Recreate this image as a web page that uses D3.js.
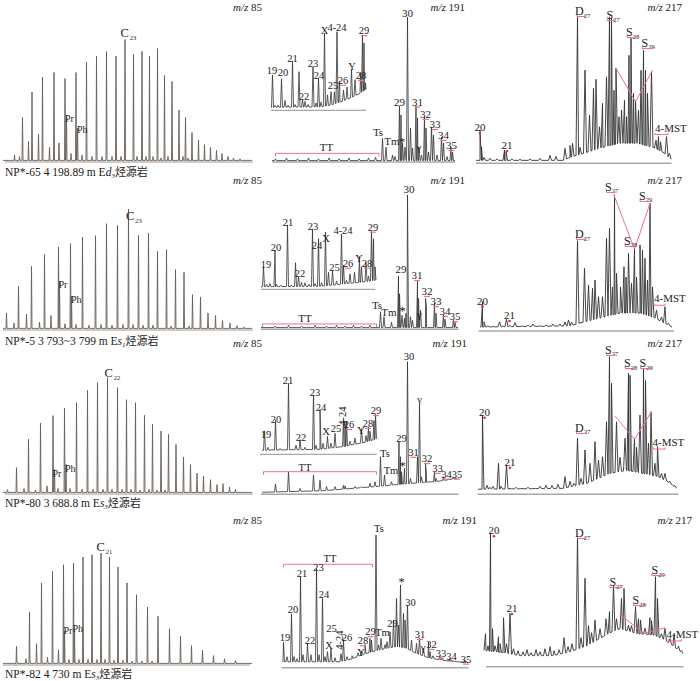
<!DOCTYPE html>
<html>
<head>
<meta charset="utf-8">
<script src="https://cdn.jsdelivr.net/npm/d3@7"></script>
<style>
body { margin: 0; background: #fff; }
svg text { font-family: "Liberation Serif", "Times New Roman", "Noto Sans CJK SC", serif; fill: #222; }
</style>
</head>
<body>
<svg id="fig" width="700" height="681"></svg>
<script>
// ---------- sample names ----------
const sampleIds = ['NP*-65', 'NP*-5', 'NP*-80', 'NP*-82'];
const depths = ['4 198.89 m', '3 793~3 799 m', '3 688.8 m', '4 730 m'];
const members = [['d', '3'], ['s', '1'], ['s', '3'], ['s', '3']];
const mzNames = ['85', '191', '217'];

// ---------- m/z 85: n-alkanes from C13, [retention time min, relative abundance] ----------
const alk65 = [[4.5,29],[6.4,46],[8.5,56],[10.8,59],[13.0,55],[15.2,59],[17.3,66],[19.3,70],[21.3,73],[23.2,70],[25.0,81],[26.7,71],[28.4,73],[29.9,70],[31.5,75],[32.9,57],[34.4,53],[35.8,34],[37.1,29],[38.4,19],[39.7,14],[40.9,11],[42.1,9],[43.3,7],[44.4,5],[45.6,3],[46.7,2],[48.0,1.5]];
const iso65 = [[13.3,29],[15.5,22]];
const minor65 = [[2.9,4],[3.9,3],[5.7,13],[7.7,18],[9.9,9],[11.8,12],[14.2,5],[16.4,4],[18.4,3],[20.4,3],[22.4,3],[24.2,3],[27.4,3],[29.2,3],[30.6,3],[32.2,2],[33.6,3],[36.6,3],[37.6,2]];
const alk5 = [[1.3,10.7],[3.7,28.4],[6.3,41.8],[8.9,49.6],[11.7,54.7],[14.1,56.9],[16.5,61.3],[19.1,62.2],[21.3,70.2],[23.5,69.1],[25.7,80],[27.7,62.4],[29.7,64],[31.5,51.8],[33.3,52.9],[35.1,39.6],[36.8,37.8],[38.5,22.9],[40.1,21.3],[41.6,10.7],[43.1,8.9],[44.5,5.6],[46.0,4],[47.4,2.2],[48.8,1.3]];
const iso5 = [[11.9,32],[14.3,22]];
const minor5 = [[2.8,4],[5.3,10],[7.9,4.5],[10.2,9],[13.0,3.5],[15.2,3],[17.8,2.5],[20.2,3],[22.4,2.5],[24.6,3],[26.6,3],[28.6,2.5],[30.6,2.5],[34.2,2],[37.8,2]];
const alk80 = [[1.5,2.2],[3.3,16.9],[5.7,35.8],[8.1,46.7],[10.6,51.6],[12.9,56.7],[15.3,60.2],[17.5,68.4],[19.5,73.6],[21.5,76.9],[23.5,70.2],[25.3,62.2],[27.1,60.2],[28.9,51.8],[30.5,45.8],[32.2,41.3],[33.7,39.1],[35.2,32.4],[36.7,24],[38.1,18.9],[39.4,13.3],[40.7,11.3],[42.1,8.9],[43.4,5.6],[44.6,6.2],[45.9,4],[47.1,2.5]];
const iso80 = [[10.9,15.6],[13.2,19]];
const minor80 = [[4.8,3],[7.1,2],[9.4,4.7],[11.6,3],[14.0,3],[16.4,2.5],[18.6,2.5],[20.6,2.5],[22.4,2.5],[24.4,2.5],[26.2,2.5],[28.0,2],[29.8,2.5],[31.4,2],[33.0,2]];
const alk82 = [[3.3,11.8],[5.9,34.7],[8.3,54],[10.5,61.8],[12.7,66.2],[14.7,67.1],[16.6,71.3],[18.4,72.9],[20.2,74],[21.9,71.3],[23.6,64.7],[25.4,54],[27.3,46.2],[29.5,38],[31.6,31.8],[33.9,23.5],[36.1,18.5],[38.3,12.2],[40.5,9.3],[42.7,5.6],[44.9,3.5],[47.1,2.2]];
const iso82 = [[12.9,21.8],[14.9,22.2]];
const minor82 = [[5.2,3.5],[7.3,13.5],[9.5,4.5],[11.7,9.5],[13.8,3],[15.8,3],[17.6,3],[19.4,3],[21.0,3],[22.8,2.5],[24.6,2.5],[26.4,2],[28.4,2],[30.4,2]];
// carbon number, label position of the main peak tag; Pr / Ph tag positions
const cTag = [['23',24.1,82.9],['23',25.2,72.7],['22',20.9,77.5],['21',19.3,75.3]];
const prphTag65 = [['Pr',13.0,26],['Ph',15.4,18.7]];
const prphTag5 = [['Pr',11.7,27.3],['Ph',14.2,17.3]];
const prphTag80 = [['Pr',10.5,10.9],['Ph',13.0,14.2]];
const prphTag82 = [['Pr',12.7,20],['Ph',14.5,21.1]];
const span85 = [[1,50.6],[0.6,50.6],[1,50.6],[0.6,50]];
const flat85 = [[0.6,0.4],[50.4,0.4]];

// ---------- m/z 191 terpanes ----------
const ter65Base = [[2.4,0.3],[39,0.3]];
const ter65Peaks = [[3.1,1.5],[5.3,2],[7.5,1.5],[9.7,2],[11.7,1.5],[13.8,2],[15.8,1.5],[17.8,2],[19.8,1.5],[21.7,2],[23.1,2.5],[24.5,15.1],[25.2,9.3],[26.5,4],[27.0,3],[27.9,36.7],[28.2,30.7],[28.5,12],[29.0,9.3],[29.5,96],[30.1,22],[30.5,8.7],[31.2,36.7],[31.5,28.7],[31.8,9.3],[32.3,4],[32.9,29.3],[33.2,22],[33.7,6],[34.3,22.7],[34.7,17.3],[35.4,4],[36.3,16],[36.7,12],[37.4,3],[38.2,9.3],[38.5,6]];
const ter65Tags = [['TT',13.3,6.9],['Ts',23.6,16.9],['Tm',26.4,10.7],['*',28.4,10],['29',27.9,37],['30',29.5,96],['31',31.5,37,1],['32',33.1,28.7,1],['33',35,22,1],['34',36.7,14.7,1],['35',38.3,8,1],['γ',31.8,6.9]];
const tt65 = [3.1,23.8,5.1];
const tri65Base = [[2.2,2.5],[12,3],[14,5],[16,9],[18,14],[20,20],[21.2,25]];
const tri65Peaks = [[2.5,43],[3.0,5],[3.6,5],[4.3,38],[5.0,11],[5.6,5],[6.5,60],[7.0,6],[7.8,47],[8.5,12],[9.0,10],[9.6,6],[10.6,53],[11.2,8],[11.7,39],[12.2,9],[12.9,95],[13.5,18],[14.2,22],[14.9,22],[15.4,97],[15.9,35],[16.7,24],[17.4,28],[18.3,49],[19.0,37],[20.1,46],[20.5,93],[20.8,83],[21.1,33]];
const tri65Tags = [['19',2.4,44],['20',4.6,41.6],['21',6.5,59],['22',8.8,11.6],['23',10.6,53],['24',11.8,38],['X',12.9,94],['25',14.6,25],['4-24',15.4,98],['26',16.6,32,1],['Y',18.4,49],['28',20.2,38,1],['29',20.8,94,1]];

const ter5Base = [[0.2,0.5],[39.6,0.5]];
const ter5Peaks = [[3,1.5],[5.7,2],[8.3,1.5],[11,2],[13.3,1.5],[15.3,2],[17,1.5],[18.7,2],[20.3,1.5],[22,2],[24.1,11],[24.8,7.7],[26.3,4],[27.7,34.9],[27.9,23],[28.4,8.7],[28.9,6.7],[29.2,10],[29.5,88.9],[30.1,7.7],[30.5,5.3],[31.5,31.5],[31.7,20],[32.1,12],[33.1,20],[33.3,14.4],[34.9,17],[35.2,10],[36.7,8.9],[37.0,6],[38.7,5.5],[39.0,4]];
const ter5Tags = [['TT',9,4],['Ts',23.4,12.9],['Tm',25.8,8.4],['*',28.5,9],['29',28.2,36.9],['30',29.8,90],['31',31.4,32.9,1],['32',33.4,22.2,1],['33',35.2,15.5,1],['34',37,8.9,1],['35',39,5.5,1],['γ',31.9,6.9]];
const tt5 = [0.5,23.3,2.9];
const tri5Base = [[0.2,2],[12,2.5],[16,5],[20,7.5],[23,10]];
const tri5Peaks = [[0.7,27],[1.3,5],[2.0,6],[3.0,48],[3.3,5],[4.2,4],[5.5,79],[6.3,4],[7.1,32],[7.7,15],[8.3,7.5],[9.0,7],[9.8,5],[10.5,74],[11.0,6],[11.7,62],[12.3,7],[13.1,70],[13.7,20],[14.5,22],[15.3,9],[16.3,68],[16.7,29],[17.3,10],[18.0,18],[18.9,20],[19.9,40],[20.3,27],[21.2,32],[21.7,15],[22.3,71],[22.7,62],[23.0,27]];
const tri5Tags = [['19',1.2,25],['20',3.2,47],['21',5.6,78],['22',8,14],['23',10.6,73],['24',11.4,49],['X',13.2,58],['25',14.9,22],['4-24',16.6,68],['26',17.6,27,1],['Y',19.8,33],['28',21.4,27,1],['29',22.6,72,1]];

const ter80Base = [[0.4,0.7],[12.4,1.7],[22.4,4.3],[29,6.3],[35.6,8],[39.4,10]];
const ter80Peaks = [[3.1,6.2],[5.7,14.4],[8,3.3],[10.7,12.2],[12,8.7],[13.3,4.5],[15,4.5],[16.7,5.3],[17,4.9],[19,4.5],[20.3,4.5],[22,6.7],[23,7.7],[24.1,24.4],[24.9,12.2],[26.3,7.7],[27.8,34.4],[28.1,24.4],[28.3,14.4],[28.9,16.7],[29.5,87.7],[30.1,10],[31.5,24.4],[31.9,58.9],[32.3,11],[33.1,19.5],[33.3,13.3],[34.9,14.4],[35.2,10],[36.7,11],[37,8.7],[38.7,10.7],[39,10]];
const ter80Tags = [['TT',9,15],['Ts',25,24.2],['Tm',26.2,13],['*',28.5,15.5],['29',28.3,34.4],['30',29.8,89],['γ',31.9,60],['31',30.7,25,1],['32',33.4,20.8,1],['33',35.5,14.3,1],['34',37.3,10.4,1],['35',39.4,10.4,1]];
const tt80 = [0.7,23.3,14.4];
const tri80Base = [[0.4,3.75],[12,5],[17,8.75],[21,13.75],[23,17.5]];
const tri80Peaks = [[0.9,28],[1.6,7.5],[2.4,5],[3.1,41],[4.0,6],[5.7,87.5],[6.4,5],[7.2,10],[8.0,17],[9.0,7.5],[10.7,73],[11.2,10],[12.0,55],[12.6,12.5],[13.5,21],[14.2,12.5],[15.0,25],[16.7,42],[17.0,37.5],[17.3,40],[18.0,15],[19.0,19],[20.3,31],[21.2,22],[21.7,33],[22.0,27.5],[22.8,41],[23.1,49]];
const tri80Tags = [['19',1.2,19],['20',3.2,38.5],['21',5.6,86.6],['22',8.2,15.8],['23',11,71.6],['24',12.2,53],['X',13.2,23],['25',15.2,26.6],['4-24',16.4,46.6,0,1],['26',17.8,31.6,1],['Y',20.2,24],['28',21.6,33,1],['29',23.2,49,1]];

const ter82Base = [[4.6,3.3],[16,3.3],[18.4,5.3],[21,8.7],[24,11.3],[27,13.3],[29,12.7],[31,9.3],[33.6,6],[37,4],[41.6,2.7]];
const ter82Peaks = [[4.7,16.3],[5.4,6.7],[6.3,34.9],[6.8,6.7],[7.4,5.3],[8.1,60],[8.6,8],[9.5,15.5],[10.2,8],[11.3,65.6],[11.8,8],[12.5,45.6],[13,6.7],[13.5,10],[14.2,12],[15,6],[16.2,8.7],[16.7,17.8],[17.4,6.7],[18.4,7.3],[19.6,9.3],[20.3,10.7],[21,14.7],[22,18.9],[22.3,17.8],[23.2,87.8],[23.7,14.5],[24.2,18.9],[25,14.7],[25.4,16.7],[26,23.3],[26.7,31.1],[27.3,45.6],[27.7,27.8],[28.1,54.5],[28.7,35.5],[29,31.1],[29.5,41.1],[30.3,17.8],[31.3,15.5],[31.9,18.9],[32.7,12.2],[33.7,16.3],[34,10],[34.6,7.3],[36,6.7],[36.4,6],[37.9,5.5],[38.2,4.7],[40.9,4.5],[41.2,3.7]];
const ter82Tags = [['TT',14,69.6],['19',5,17.3],['20',6.6,35.8],['21',8.4,59.6],['22',10,15.1],['23',11.7,63.8],['24',12.8,45.8],['25',14.3,22.9],['X',13.8,11.8],['4-24',15.8,17.8,0,1],['26',17.4,17.3],['28',20.6,15,1],['Y',20.2,7],['29',22.1,21,1],['Ts',23.8,89.8],['Tm',24.5,20.5],['29',26.5,26.3],['*',28.3,53.8],['30',30.1,40.5],['31',32,19.1,1],['γ',32.6,10.5],['32',34.3,12.5,1],['33',36.2,6.5,1],['34',38.3,4.7,1],['35',41.2,2.7,1]];
const tt82 = [4.7,22.5,68.3];
const span191 = [[2.4,39],[0.2,39.7],[0.2,39.7],[4.3,41.7]];
const spanTri = [[2.2,21.2],[0.2,23.1],[0,23.3]];

// ---------- m/z 217 steranes ----------
const ste65Base = [[1.2,1.3],[18.6,1.3],[20,3.3],[23.4,6.7],[26.6,10],[30,12.7],[33.4,12.7],[36.6,10],[38.6,6.7],[40.2,2]];
const ste65Peaks = [[2,21.5],[2.3,10.4],[2.8,3.3],[4,2.7],[5.4,2.3],[6.9,8.2],[7.2,7.1],[8.4,2.3],[10,2],[12,2.3],[14,2.7],[16,4.7],[17.2,4],[19,9.3],[20,11.3],[20.5,12.7],[21.5,97],[22,10],[23,61.5],[23.9,31.5],[24.7,49.3],[25.2,55.3],[25.9,23.7],[26.5,39.3],[27.3,57],[27.9,97],[28.3,96],[28.8,48],[29.2,62.7],[29.8,30.4],[30.3,34.9],[30.9,41.3],[31.3,30.4],[31.8,71.3],[32.2,82.7],[32.7,46],[33.1,41.3],[33.7,34.7],[34.2,61.3],[34.7,74.7],[35.1,61.3],[35.5,46],[36.3,60.4],[37.2,14.7],[37.7,17.1],[38.1,13.7],[39.3,17.1],[39.9,6]];
const ste65Nums = [['20',2,20.9],['21',7.4,8.9]];
const ste65Tags = [['D','27',21,98.2,21.4,23],['S','27',27.3,95.5,27.4,28.8],['S','28',31.2,84.2,31.4,33],['S','29',34.3,76.9,34.4,36.4],['4-MST','',37,20.5,37,39.6]];
const ste65V = [[29.2,62.7],[33.1,40.4],[36.5,61.5]];

const ste5Base = [[2,2],[20,2.7],[22,4.7],[26,8],[30,11.3],[34,11.3],[37,8],[39.2,4],[40.4,2]];
const ste5Peaks = [[2.5,18.9],[2.8,5.5],[3.6,2.7],[4.6,2.3],[5.9,5.5],[6.6,2.7],[7.3,7.1],[8,3],[9,4.9],[10.4,2.7],[11.6,3.3],[12.6,4],[14,2.7],[15.2,3.3],[16.6,4],[18,4],[19,5.3],[19.7,6.7],[20.3,5.3],[21.5,59.5],[22.9,41.1],[23.7,30],[24.5,27.8],[25,33.3],[25.7,22.2],[26.5,22.2],[27.3,61.1],[27.9,67.8],[28.5,28.7],[28.9,90],[29.3,37.8],[30.1,28.7],[30.8,42.2],[31.2,35.3],[31.7,51.1],[32.3,31.1],[32.9,54.5],[33.3,35.3],[34,56.7],[34.5,53.3],[35,47.8],[35.5,33.3],[36,84.5],[36.5,28.7],[37.3,13.3],[38.3,8.7],[39,15.5],[39.7,4.5]];
const ste5Nums = [['20',2.5,16.9],['21',7.9,7.3]];
const ste5Tags = [['D','27',21,61.3,21.3,23],['S','27',27,92.7,27.3,29],['S','28',30.8,56.7,31,33],['S','29',33.8,86.7,34,36.3],['4-MST','',36.8,18.5,36.8,39]];
const ste5V = [[28.7,90.7],[32.9,53.8],[36,84.5]];

const ste80Base = [[1.6,2.7],[18.6,3.3],[23.4,6.7],[28,13.3],[31.4,15.3],[34.6,13.3],[37.4,11.3],[39.4,8],[41.4,3.3]];
const ste80Peaks = [[2.5,52.2],[2.7,15.5],[3.4,5.3],[4,4],[4.6,4.7],[5.7,20],[6.2,4.7],[7.3,18.9],[8,3.3],[9.2,4],[10.4,3.3],[11.6,4],[12.8,3.3],[14,4.7],[15.2,5.3],[16.4,5.3],[17.6,6],[19,11.1],[20,8],[20.8,6.7],[21.5,36.7],[22.2,10],[23,28.9],[24,20],[25,34.5],[25.7,22],[26.5,24.4],[27.3,47.7],[27.9,91.1],[28.3,73.3],[29.3,47.7],[30,24],[31,36.7],[31.7,80],[32,78.7],[32.9,36.7],[33.3,30.7],[34,52.2],[34.7,83.3],[35.1,75.3],[35.7,33.3],[36.2,54.4],[37,20],[37.5,31.1],[38.3,13.3],[39,13.3],[40,8],[41,5]];
const ste80Nums = [['20',2.9,51.7],['21',8,18.4]];
const ste80Tags = [['D','27',21,40.9,21.3,23.3],['S','27',27,92.9,27.3,29],['S','28',30.8,84.2,31,33],['S','29',33.9,84.2,34.1,36.3],['4-MST','',36.5,31.5,36.7,39]];
const ste80V = [[29,51.5],[32.9,36],[36.3,54.4]];

const ste82Base = [[3.2,10],[6.6,8.7],[10,6.7],[16.6,6.7],[20,9.3],[23.4,13.3],[28,22],[30,24.7],[33.4,21.3],[36.6,20.7],[38.6,18],[40.6,13.3],[42.6,8]];
const ste82Peaks = [[3.1,21.3],[3.6,13.3],[4.1,88.3],[4.5,24.7],[5,13.3],[5.7,19.3],[6,14.7],[6.7,32],[7.3,14.7],[8,34.9],[8.7,11.3],[9.6,10],[10.6,9.3],[11.4,10.7],[12.2,8.7],[13.2,10.7],[14,9.3],[15,11.3],[16,12.7],[16.8,10],[17.8,10.7],[18.8,18.7],[19.6,12.7],[20.4,14.7],[21.5,86],[22.2,18.7],[23,58.3],[23.7,26.7],[24.3,22],[25,30.5],[26,24.7],[27.2,31.3],[27.9,36],[28.7,53.3],[29.3,31.3],[30.3,44.9],[30.8,51.6],[31.7,27],[32.3,26.7],[33.1,39.3],[33.7,31.3],[34.1,30.5],[35,25],[36,32],[36.3,30],[37.1,59.3],[37.5,44.9],[38.3,21.3],[39,24.9],[40,18],[40.8,21.6],[41.7,13],[42.3,10]];
const ste82Nums = [['20',4.8,87.6],['21',8.4,35.8]];
const ste82Tags = [['D','27',21,85.8,21.5,23],['S','27',27.9,53.1,28,30.3],['S','28',32.5,41.1,32.7,35.2],['S','29',36.3,61.1,36.3,39],['4-MST','',39.3,18.5,39.7,42.3]];
const ste82V = [[29.9,34.3],[34.8,21.6],[39,25.3]];
const span217 = [[1.2,40.3],[1.7,40.8],[1.5,41.7],[3.2,42.7]];

// ---------- layout ----------
const PINK = '#ee6e98';
const rowsLayout = [
  { title: 175.5, b85: 161, b191: 161, bTri: 109.3, b217: 162.3, mz: 11, mzEnd: [262, 465, 682], fs191: 11 },
  { title: 345, b85: 329, b191: 328.3, bTri: 288.3, b217: 330, mz: 184, mzEnd: [262, 465, 682], fs191: 11 },
  { title: 507, b85: 493, b191: 493.3, bTri: 453.3, b217: 493.3, mz: 347, mzEnd: [262, 467, 682], fs191: 10.5 },
  { title: 677.5, b85: 664, b191: 666.7, bTri: null, b217: 665.7, mz: 524, mzEnd: [262, 477, 692], fs191: 10.5 }
];
const alkData = [alk65, alk5, alk80, alk82];
const isoData = [iso65, iso5, iso80, iso82];
const minorData = [minor65, minor5, minor80, minor82];
const prphTags = [prphTag65, prphTag5, prphTag80, prphTag82];
const terData = [
  { base: ter65Base, peaks: ter65Peaks, tags: ter65Tags, tt: tt65 },
  { base: ter5Base, peaks: ter5Peaks, tags: ter5Tags, tt: tt5 },
  { base: ter80Base, peaks: ter80Peaks, tags: ter80Tags, tt: tt80 },
  { base: ter82Base, peaks: ter82Peaks, tags: ter82Tags, tt: tt82 }
];
const triData = [
  { base: tri65Base, peaks: tri65Peaks, tags: tri65Tags },
  { base: tri5Base, peaks: tri5Peaks, tags: tri5Tags },
  { base: tri80Base, peaks: tri80Peaks, tags: tri80Tags }
];
const steData = [
  { base: ste65Base, peaks: ste65Peaks, nums: ste65Nums, tags: ste65Tags, v: ste65V },
  { base: ste5Base, peaks: ste5Peaks, nums: ste5Nums, tags: ste5Tags, v: ste5V },
  { base: ste80Base, peaks: ste80Peaks, nums: ste80Nums, tags: ste80Tags, v: ste80V },
  { base: ste82Base, peaks: ste82Peaks, nums: ste82Nums, tags: ste82Tags, v: ste82V }
];

const svg = d3.select('#fig');
const x85 = d3.scaleLinear().domain([0, 52]).range([0, 260]);
const x191 = d3.scaleLinear().domain([0, 42]).range([260, 470]);
const x217 = d3.scaleLinear().domain([0, 44]).range([470, 690]);

// chromatogram trace: baseline knots + triangular peaks, one continuous line
function drawTrace(g, x, y, base, peaks, w, color, sw) {
  const bl = d3.scaleLinear().domain(base.map(d => d[0])).range(base.map(d => d[1]));
  const pts = base.map(d => [d[0], d[1]]);
  peaks.forEach(([t, a]) => {
    pts.push([t - w, bl(t - w)], [t, a], [t + w, bl(t + w)]);
  });
  pts.sort((p, q) => p[0] - q[0]);
  g.append('path')
    .attr('d', d3.line().x(d => x(d[0])).y(d => y(d[1]))(pts))
    .attr('fill', 'none')
    .attr('stroke', color)
    .attr('stroke-width', sw)
    .attr('stroke-linejoin', 'round');
}

function drawAxis(g, x, y, span, color, sw) {
  g.append('line')
    .attr('x1', x(span[0])).attr('x2', x(span[1]))
    .attr('y1', y(0) + 1).attr('y2', y(0) + 1)
    .attr('stroke', color).attr('stroke-width', sw);
}

function numberTags(g, x, y, tags, size) {
  tags.forEach(([t, r, a, pink, rot]) => {
    if (rot) {
      g.append('text')
        .attr('transform', `translate(${x(r)},${y(a)}) rotate(-90)`)
        .attr('text-anchor', 'middle').attr('dy', '0.35em')
        .attr('font-size', size).text(t);
      return;
    }
    g.append('text')
      .attr('x', x(r)).attr('y', y(a))
      .attr('text-anchor', 'middle')
      .attr('font-size', t === '*' ? size + 2 : size)
      .text(t);
    if (pink) {
      g.append('line')
        .attr('x1', x(r) - 3).attr('x2', x(r) + 3)
        .attr('y1', y(a) + 1.5).attr('y2', y(a) + 1.5)
        .attr('stroke', PINK).attr('stroke-width', 1.2);
    }
  });
}

function mzLabel(xEnd, yPos, mz) {
  const t = svg.append('text')
    .attr('x', xEnd).attr('y', yPos)
    .attr('text-anchor', 'end').attr('font-size', 11);
  t.append('tspan').attr('font-style', 'italic').text('m/z');
  t.append('tspan').text(' ' + mz);
}

rowsLayout.forEach((L, i) => {
  // ----- m/z 85 -----
  const g85 = svg.append('g');
  const y85 = d3.scaleLinear().domain([0, 100]).range([L.b85, L.b85 - 150]);
  drawAxis(g85, x85, y85, span85[i], '#a0958e', 1);
  drawTrace(g85, x85, y85, flat85, alkData[i].concat(isoData[i], minorData[i]), 0.1, '#655d58', 0.9);
  const [cn, cr, ca] = cTag[i];
  const ct = g85.append('text').attr('x', x85(cr)).attr('y', y85(ca)).attr('font-size', 12.5);
  ct.append('tspan').text('C');
  ct.append('tspan').attr('font-size', 6.5).attr('dy', 3).attr('dx', 1).text(cn);
  prphTags[i].forEach(([t, r, a]) => {
    g85.append('text').attr('x', x85(r)).attr('y', y85(a)).attr('font-size', 10).text(t);
  });
  mzLabel(L.mzEnd[0], L.mz, mzNames[0]);

  // title
  const tt = svg.append('text').attr('x', 5).attr('y', L.title).attr('font-size', 11.5);
  tt.append('tspan').text(`${sampleIds[i]} ${depths[i]} E`);
  tt.append('tspan').attr('font-style', 'italic').text(members[i][0]);
  tt.append('tspan').attr('font-style', 'italic').attr('font-size', 7).attr('dy', 2).text(members[i][1]);
  tt.append('tspan').attr('dy', -2).attr('font-family', '"Noto Sans CJK SC", sans-serif').attr('font-size', 11).text('烃源岩');

  // ----- m/z 191 -----
  const g191 = svg.append('g');
  const y191 = d3.scaleLinear().domain([0, 100]).range([L.b191, L.b191 - 150]);
  const T = terData[i];
  drawAxis(g191, x191, y191, span191[i], '#a8a8a8', 1.5);
  drawTrace(g191, x191, y191, T.base, T.peaks, 0.2, '#333', 0.8);
  const [t0, t1, ta] = T.tt;
  g191.append('path')
    .attr('d', `M${x191(t0)},${y191(ta) + 3}V${y191(ta)}H${x191(t1)}V${y191(ta) + 3}`)
    .attr('fill', 'none').attr('stroke', PINK).attr('stroke-width', 1);
  numberTags(g191, x191, y191, T.tags, L.fs191);
  mzLabel(L.mzEnd[1], L.mz, mzNames[1]);

  if (L.bTri !== null) {
    const gi = svg.append('g');
    const yi = d3.scaleLinear().domain([0, 100]).range([L.bTri, L.bTri - 80]);
    const R = triData[i];
    drawAxis(gi, x191, yi, spanTri[i], '#a8a8a8', 1.3);
    drawTrace(gi, x191, yi, R.base, R.peaks, 0.2, '#333', 0.8);
    numberTags(gi, x191, yi, R.tags, 10.5);
  }

  // ----- m/z 217 -----
  const g217 = svg.append('g');
  const y217 = d3.scaleLinear().domain([0, 100]).range([L.b217, L.b217 - 150]);
  const S = steData[i];
  drawAxis(g217, x217, y217, span217[i], '#a8a8a8', 1.5);
  drawTrace(g217, x217, y217, S.base, S.peaks, 0.3, '#333', 0.9);
  g217.append('path')
    .attr('d', d3.line().x(d => x217(d[0])).y(d => y217(d[1]))(S.v))
    .attr('fill', 'none').attr('stroke', PINK).attr('stroke-width', 1);
  S.nums.forEach(([t, r, a]) => {
    g217.append('text').attr('x', x217(r)).attr('y', y217(a))
      .attr('text-anchor', 'middle').attr('font-size', 11).text(t);
    g217.append('circle').attr('cx', x217(r)).attr('cy', y217(a) + 2).attr('r', 1.3).attr('fill', '#e2322c');
  });
  S.tags.forEach(([t, sub, r, a, b0, b1]) => {
    const tx = g217.append('text').attr('x', x217(r)).attr('y', y217(a)).attr('font-size', t.length > 1 ? 11 : 12);
    tx.append('tspan').text(t);
    if (sub) tx.append('tspan').attr('font-size', 6.5).attr('dy', 2.5).text(sub);
    const yb = y217(a) + (sub ? 1.5 : 3);
    g217.append('path')
      .attr('d', `M${x217(b0)},${yb - 1.5}V${yb}H${x217(b1)}V${yb - 1.5}`)
      .attr('fill', 'none').attr('stroke', PINK).attr('stroke-width', 1);
  });
  mzLabel(L.mzEnd[2], L.mz, mzNames[2]);
});
</script>
</body>
</html>
